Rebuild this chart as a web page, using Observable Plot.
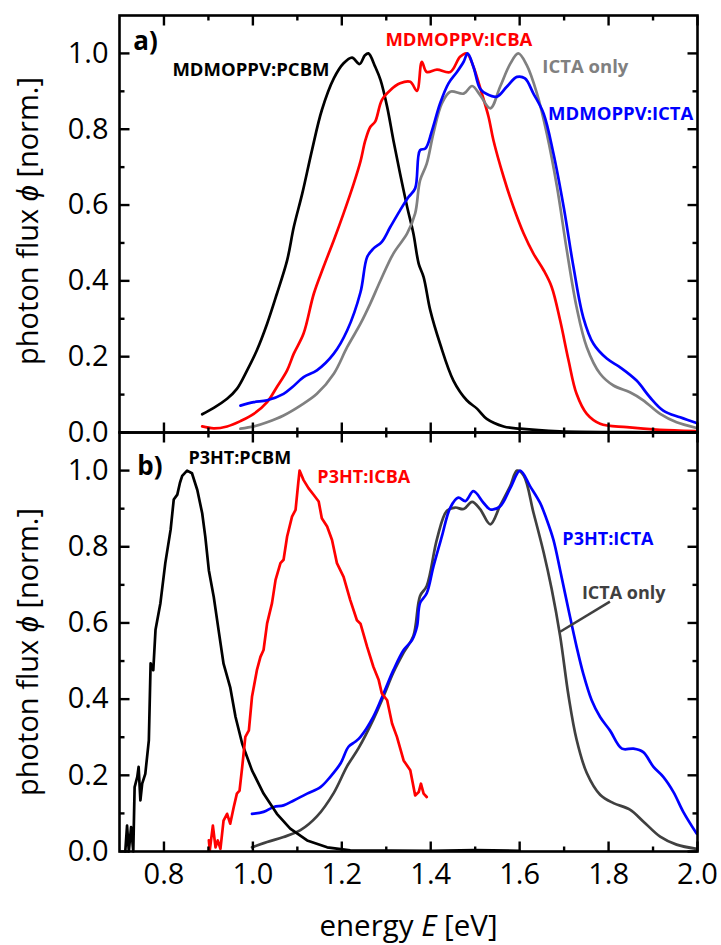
<!DOCTYPE html>
<html><head><meta charset="utf-8">
<script src="https://cdn.jsdelivr.net/npm/d3@7"></script>
<script src="https://cdn.jsdelivr.net/npm/@observablehq/plot@0.6"></script>
<style>
body{margin:0;background:#fff}
#chart svg{display:block;overflow:visible}
</style>
</head><body><div id="chart"></div>
<script>
// ---------- axes ----------
const xDomain = [0.7, 2.0];
const yDomain = [0, 1.1];
const xMajor = [0.8, 1.0, 1.2, 1.4, 1.6, 1.8, 2.0];
const xMinor = [0.9, 1.1, 1.3, 1.5, 1.7, 1.9];
const yMajor = [0, 0.2, 0.4, 0.6, 0.8, 1.0];
const yMinor = [0.1, 0.3, 0.5, 0.7, 0.9];
const yTitle = "photon flux ϕ [norm.]";
const xTitle = "energy E [eV]";

// ---------- panel a) MDMO-PPV blends : [energy eV, normalised flux] ----------
const aPCBM = [[0.886,0.048],[0.912,0.065],[0.942,0.089],[0.964,0.115],[0.987,0.164],[1.009,0.217],[1.032,0.287],[1.054,0.366],[1.077,0.454],[1.092,0.542],[1.111,0.630],[1.133,0.745],[1.155,0.850],[1.182,0.934],[1.204,0.974],[1.223,0.989],[1.240,0.972],[1.252,0.995],[1.260,1.0],[1.275,0.965],[1.287,0.93],[1.302,0.859],[1.316,0.771],[1.331,0.683],[1.347,0.595],[1.361,0.525],[1.373,0.445],[1.384,0.41],[1.399,0.322],[1.421,0.234],[1.451,0.137],[1.481,0.085],[1.504,0.063],[1.526,0.036],[1.564,0.016],[1.601,0.01],[1.69,0.003],[1.85,0.001],[2.0,0.0]];
const aICBA = [[0.886,0.016],[0.912,0.011],[0.942,0.016],[0.972,0.03],[1.002,0.049],[1.032,0.08],[1.054,0.12],[1.077,0.164],[1.092,0.208],[1.114,0.261],[1.137,0.366],[1.159,0.437],[1.182,0.507],[1.204,0.578],[1.227,0.657],[1.242,0.715],[1.253,0.771],[1.264,0.806],[1.275,0.82],[1.290,0.877],[1.309,0.903],[1.331,0.921],[1.354,0.925],[1.369,0.901],[1.380,0.978],[1.391,0.951],[1.414,0.957],[1.444,0.951],[1.466,0.991],[1.481,1.0],[1.496,0.965],[1.515,0.894],[1.530,0.833],[1.541,0.771],[1.564,0.674],[1.586,0.595],[1.609,0.525],[1.631,0.472],[1.654,0.428],[1.672,0.384],[1.691,0.296],[1.710,0.19],[1.728,0.102],[1.751,0.049],[1.781,0.023],[1.841,0.014],[1.915,0.007],[1.995,0.004]];
const aICTAonly = [[0.972,0.01],[1.002,0.016],[1.032,0.027],[1.069,0.045],[1.107,0.071],[1.144,0.102],[1.182,0.155],[1.212,0.225],[1.242,0.287],[1.264,0.34],[1.287,0.401],[1.316,0.472],[1.347,0.525],[1.365,0.578],[1.376,0.665],[1.391,0.709],[1.406,0.789],[1.425,0.868],[1.444,0.899],[1.474,0.894],[1.493,0.914],[1.511,0.89],[1.534,0.855],[1.556,0.912],[1.579,0.973],[1.597,1.0],[1.616,0.969],[1.639,0.894],[1.661,0.789],[1.684,0.648],[1.706,0.481],[1.728,0.331],[1.751,0.225],[1.781,0.155],[1.811,0.124],[1.848,0.106],[1.878,0.085],[1.916,0.049],[1.953,0.027],[1.998,0.012]];
const aICTA = [[0.972,0.071],[1.002,0.08],[1.032,0.085],[1.069,0.102],[1.089,0.12],[1.114,0.146],[1.144,0.164],[1.182,0.208],[1.212,0.269],[1.242,0.37],[1.257,0.463],[1.271,0.485],[1.290,0.503],[1.309,0.542],[1.331,0.586],[1.350,0.621],[1.365,0.644],[1.376,0.745],[1.388,0.749],[1.403,0.797],[1.421,0.868],[1.440,0.921],[1.459,0.951],[1.474,0.978],[1.483,1.0],[1.496,0.965],[1.511,0.907],[1.526,0.893],[1.549,0.886],[1.571,0.912],[1.594,0.938],[1.612,0.934],[1.631,0.894],[1.654,0.841],[1.676,0.736],[1.699,0.595],[1.721,0.437],[1.743,0.304],[1.766,0.234],[1.796,0.195],[1.826,0.172],[1.863,0.137],[1.893,0.093],[1.923,0.058],[1.961,0.04],[1.998,0.025]];

// ---------- panel b) P3HT blends ----------
const bPCBM = [[0.713,0.0],[0.717,0.068],[0.721,0.0],[0.726,0.064],[0.731,0.0],[0.734,0.169],[0.740,0.196],[0.743,0.222],[0.747,0.134],[0.751,0.178],[0.758,0.204],[0.766,0.292],[0.770,0.494],[0.776,0.476],[0.781,0.582],[0.792,0.652],[0.803,0.757],[0.815,0.845],[0.822,0.924],[0.830,0.937],[0.836,0.968],[0.841,0.986],[0.852,1.0],[0.863,0.993],[0.875,0.949],[0.886,0.888],[0.893,0.826],[0.901,0.738],[0.912,0.668],[0.923,0.58],[0.934,0.493],[0.949,0.431],[0.961,0.353],[0.976,0.283],[0.998,0.213],[1.024,0.152],[1.054,0.099],[1.084,0.06],[1.122,0.029],[1.167,0.011],[1.219,0.003],[1.40,0.002],[1.50,0.004],[1.60,0.002]];
const bICBA = [[0.901,0.029],[0.903,0.003],[0.910,0.068],[0.916,0.011],[0.921,0.029],[0.927,0.007],[0.934,0.081],[0.942,0.099],[0.949,0.073],[0.957,0.117],[0.964,0.152],[0.970,0.16],[0.976,0.222],[0.983,0.301],[0.991,0.318],[0.998,0.406],[1.009,0.476],[1.017,0.511],[1.024,0.529],[1.032,0.599],[1.043,0.652],[1.051,0.713],[1.062,0.757],[1.069,0.766],[1.077,0.827],[1.088,0.879],[1.096,0.897],[1.102,0.967],[1.105,1.0],[1.114,0.975],[1.125,0.954],[1.137,0.936],[1.148,0.919],[1.155,0.875],[1.167,0.853],[1.178,0.818],[1.189,0.757],[1.204,0.721],[1.219,0.66],[1.234,0.607],[1.242,0.598],[1.257,0.537],[1.271,0.485],[1.283,0.45],[1.290,0.415],[1.302,0.397],[1.313,0.336],[1.324,0.301],[1.339,0.239],[1.354,0.213],[1.365,0.147],[1.373,0.156],[1.378,0.178],[1.384,0.152],[1.391,0.143]];
const bICTAonly = [[0.998,0.011],[1.032,0.025],[1.069,0.038],[1.107,0.056],[1.144,0.092],[1.182,0.154],[1.212,0.224],[1.238,0.272],[1.271,0.347],[1.294,0.408],[1.316,0.47],[1.339,0.522],[1.361,0.566],[1.376,0.671],[1.391,0.697],[1.414,0.82],[1.436,0.894],[1.455,0.903],[1.474,0.899],[1.493,0.918],[1.511,0.899],[1.534,0.859],[1.556,0.908],[1.579,0.96],[1.594,1.0],[1.609,0.987],[1.631,0.89],[1.654,0.785],[1.672,0.689],[1.691,0.566],[1.710,0.408],[1.728,0.294],[1.751,0.206],[1.781,0.149],[1.811,0.127],[1.848,0.11],[1.878,0.079],[1.916,0.039],[1.953,0.018],[1.998,0.007]];
const bICTA = [[0.998,0.099],[1.024,0.104],[1.047,0.117],[1.069,0.121],[1.092,0.134],[1.122,0.152],[1.152,0.169],[1.174,0.196],[1.197,0.231],[1.215,0.275],[1.230,0.288],[1.242,0.301],[1.271,0.354],[1.294,0.415],[1.316,0.476],[1.339,0.529],[1.358,0.555],[1.369,0.59],[1.376,0.652],[1.391,0.678],[1.406,0.748],[1.425,0.827],[1.444,0.903],[1.462,0.929],[1.478,0.92],[1.496,0.946],[1.519,0.915],[1.534,0.898],[1.556,0.906],[1.579,0.954],[1.601,1.0],[1.624,0.958],[1.646,0.915],[1.661,0.871],[1.676,0.818],[1.691,0.739],[1.710,0.634],[1.728,0.538],[1.743,0.467],[1.762,0.397],[1.781,0.353],[1.803,0.318],[1.830,0.27],[1.856,0.27],[1.878,0.261],[1.901,0.222],[1.923,0.196],[1.946,0.156],[1.968,0.104],[1.998,0.047]];

// ---------- annotations (data coordinates of text start / baseline) ----------
const aLabels = [
  {t: "a)", x: 0.731, y: 1.009, c: "#000000", s: 26},
  {t: "MDMOPPV:PCBM", x: 0.819, y: 0.940, c: "#000000", s: 18.5},
  {t: "MDMOPPV:ICBA", x: 1.298, y: 1.019, c: "#ff0000", s: 18.5},
  {t: "ICTA only", x: 1.651, y: 0.948, c: "#808080", s: 18.5},
  {t: "MDMOPPV:ICTA", x: 1.664, y: 0.824, c: "#0000ff", s: 18.5}
];
const bLabels = [
  {t: "b)", x: 0.740, y: 0.989, c: "#000000", s: 26},
  {t: "P3HT:PCBM", x: 0.855, y: 1.016, c: "#000000", s: 18},
  {t: "P3HT:ICBA", x: 1.145, y: 0.968, c: "#ff0000", s: 18},
  {t: "P3HT:ICTA", x: 1.696, y: 0.805, c: "#0000ff", s: 18},
  {t: "ICTA only", x: 1.740, y: 0.663, c: "#404040", s: 18}
];
const bLeader = [{x1: 1.803, y1: 0.656, x2: 1.691, y2: 0.577}];

const FONT = "'Open Sans', sans-serif";
const W = 721, ML = 119, MR = 24;

function panel({series, labels, leader, height, marginTop, marginBottom, showX, yTitleDy}) {
  const fh = height - marginTop - marginBottom; // frame height (px)
  const fw = W - ML - MR;                       // frame width (px)
  const ky = (yDomain[1] - yDomain[0]) / fh;    // data units per px
  const kx = (xDomain[1] - xDomain[0]) / fw;
  const marks = [];
  for (const s of series) {
    marks.push(Plot.line(s.data, {x: d => d[0], y: d => d[1], stroke: s.color, strokeWidth: 2.7, curve: s.curve || "linear"}));
  }
  if (leader) marks.push(Plot.link(leader, {x1: "x1", y1: "y1", x2: "x2", y2: "y2", stroke: "#404040", strokeWidth: 2.5}));
  for (const L of labels) {
    marks.push(Plot.text([L], {x: "x", y: "y", text: "t", fill: L.c, fontSize: L.s, fontWeight: "bold", textAnchor: "start", lineAnchor: "bottom"}));
  }
  // inward ticks on all four sides
  const tk = {stroke: "#000", strokeWidth: 2.4};
  for (const [vals, len] of [[xMajor, 10], [xMinor, 5]]) {
    marks.push(Plot.link(vals, {x1: d => d, x2: d => d, y1: () => yDomain[0], y2: () => yDomain[0] + len * ky, ...tk}));
    marks.push(Plot.link(vals, {x1: d => d, x2: d => d, y1: () => yDomain[1], y2: () => yDomain[1] - len * ky, ...tk}));
  }
  for (const [vals, len] of [[yMajor, 10], [yMinor, 5]]) {
    marks.push(Plot.link(vals, {y1: d => d, y2: d => d, x1: () => xDomain[0], x2: () => xDomain[0] + len * kx, ...tk}));
    marks.push(Plot.link(vals, {y1: d => d, y2: d => d, x1: () => xDomain[1], x2: () => xDomain[1] - len * kx, ...tk}));
  }
  marks.push(Plot.axisY({anchor: "left", ticks: yMajor, tickSize: 0, tickPadding: 11, tickFormat: d3.format(".1f"), fontSize: 29, label: null}));
  if (showX) {
    marks.push(Plot.axisX({anchor: "bottom", ticks: xMajor, tickSize: 0, tickPadding: 12, tickFormat: d3.format(".1f"), fontSize: 29, label: null}));
    marks.push(Plot.text([xTitle], {frameAnchor: "bottom", text: d => d, dy: 84, lineAnchor: "bottom", textAnchor: "middle", fontSize: 29.5}));
  }
  marks.push(Plot.text([yTitle], {frameAnchor: "left", text: d => d, rotate: -90, dx: -91, dy: yTitleDy, textAnchor: "middle", lineAnchor: "middle", fontSize: 29}));
  marks.push(Plot.frame({stroke: "#000", strokeWidth: 2.6}));
  return Plot.plot({
    width: W, height, marginTop, marginBottom, marginLeft: ML, marginRight: MR,
    x: {domain: xDomain, axis: null}, y: {domain: yDomain, axis: null},
    style: {fontFamily: FONT, color: "#000", background: "transparent", overflow: "visible"},
    marks
  });
}

const panelA = panel({
  series: [
    {data: aPCBM, color: "#000000", curve: "catmull-rom"},
    {data: aICBA, color: "#ff0000", curve: "catmull-rom"},
    {data: aICTAonly, color: "#808080", curve: "catmull-rom"},
    {data: aICTA, color: "#0000ff", curve: "catmull-rom"}
  ],
  labels: aLabels, height: 432, marginTop: 15, marginBottom: 0, showX: false, yTitleDy: -3
});
const panelB = panel({
  series: [
    {data: bICTAonly, color: "#404040", curve: "catmull-rom"},
    {data: bICTA, color: "#0000ff", curve: "catmull-rom"},
    {data: bPCBM, color: "#000000"},
    {data: bICBA, color: "#ff0000"}
  ],
  labels: bLabels, leader: bLeader, height: 513, marginTop: 0, marginBottom: 94, showX: true, yTitleDy: 10
});
document.getElementById("chart").append(panelA, panelB);

// italic symbols (ϕ, E) inside axis titles
d3.selectAll("#chart text").each(function() {
  const el = d3.select(this);
  const s = el.text();
  let parts = null;
  if (s === yTitle) parts = ["photon flux ", "ϕ", " [norm.]"];
  if (s === xTitle) parts = ["energy ", "E", " [eV]"];
  if (!parts) return;
  el.text(null);
  parts.forEach((p, i) => el.append("tspan").attr("font-style", i === 1 ? "italic" : null).text(p));
});
</script>
</body></html>
